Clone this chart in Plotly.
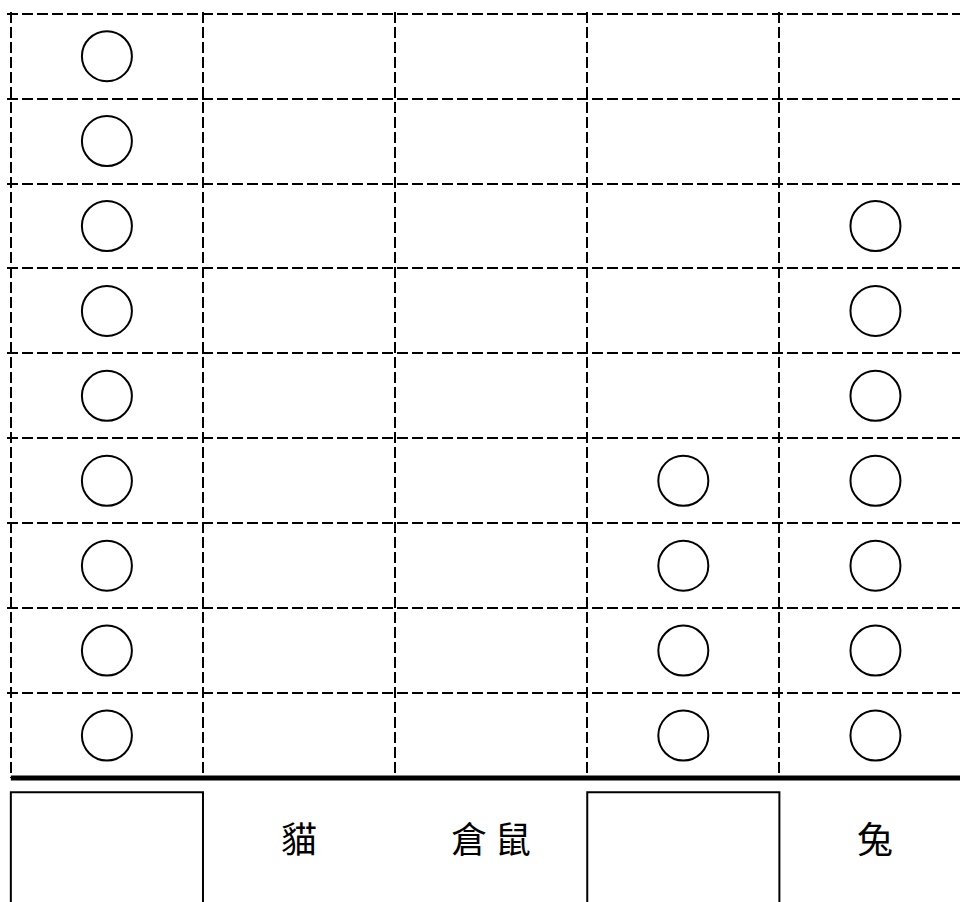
import plotly.graph_objects as go

# Pictograph worksheet: one circle per animal, blank boxes are labels to fill in
categories = ["", "貓", "倉鼠", "", "兔"]
counts = [9, 0, 0, 4, 7]
n_rows = 9

fig = go.Figure()

# Circles stacked from the bottom row upwards
xs, ys = [], []
for i, c in enumerate(counts):
    for k in range(c):
        xs.append(i)
        ys.append(k + 1)

fig.add_trace(go.Scatter(
    x=xs, y=ys, mode='markers',
    marker=dict(symbol='circle-open', size=50, color='black', line=dict(width=2, color='black')),
    hoverinfo='skip', showlegend=False))

# Label row: text for named categories, empty box for blank ones
for i, name in enumerate(categories):
    if name:
        fig.add_annotation(x=i, y=-0.077, xref='x', yref='paper', text=' '.join(name),
                           showarrow=False, yanchor='middle',
                           font=dict(size=36, color='black', family='Noto Sans CJK TC'))
    else:
        fig.add_shape(type='rect', xref='x', yref='paper',
                      x0=i - 0.5, x1=i + 0.5, y0=-0.0185, y1=-0.2,
                      line=dict(color='black', width=2))

# thick base line under the grid
fig.add_shape(type='line', xref='x', yref='paper', x0=-0.5, x1=4.44, y0=0, y1=0,
              line=dict(color='black', width=5))

dash = '11px,4px'
fig.update_layout(
    width=960, height=902,
    margin=dict(l=7, r=0, t=12, b=124),
    paper_bgcolor='white', plot_bgcolor='white',
    xaxis=dict(range=[-0.52, 4.44], tickvals=[-0.5, 0.5, 1.5, 2.5, 3.5],
               showticklabels=False, showgrid=True, gridcolor='black', gridwidth=2,
               griddash=dash, zeroline=False, showline=False),
    yaxis=dict(range=[0.5, n_rows + 0.52], tickvals=[k + 0.5 for k in range(n_rows + 1)],
               showticklabels=False, showgrid=True, gridcolor='black', gridwidth=2,
               griddash=dash, zeroline=False, showline=False),
)

fig.write_html("out.html", config={'displayModeBar': False},
               post_script="document.body.style.margin='0';")
